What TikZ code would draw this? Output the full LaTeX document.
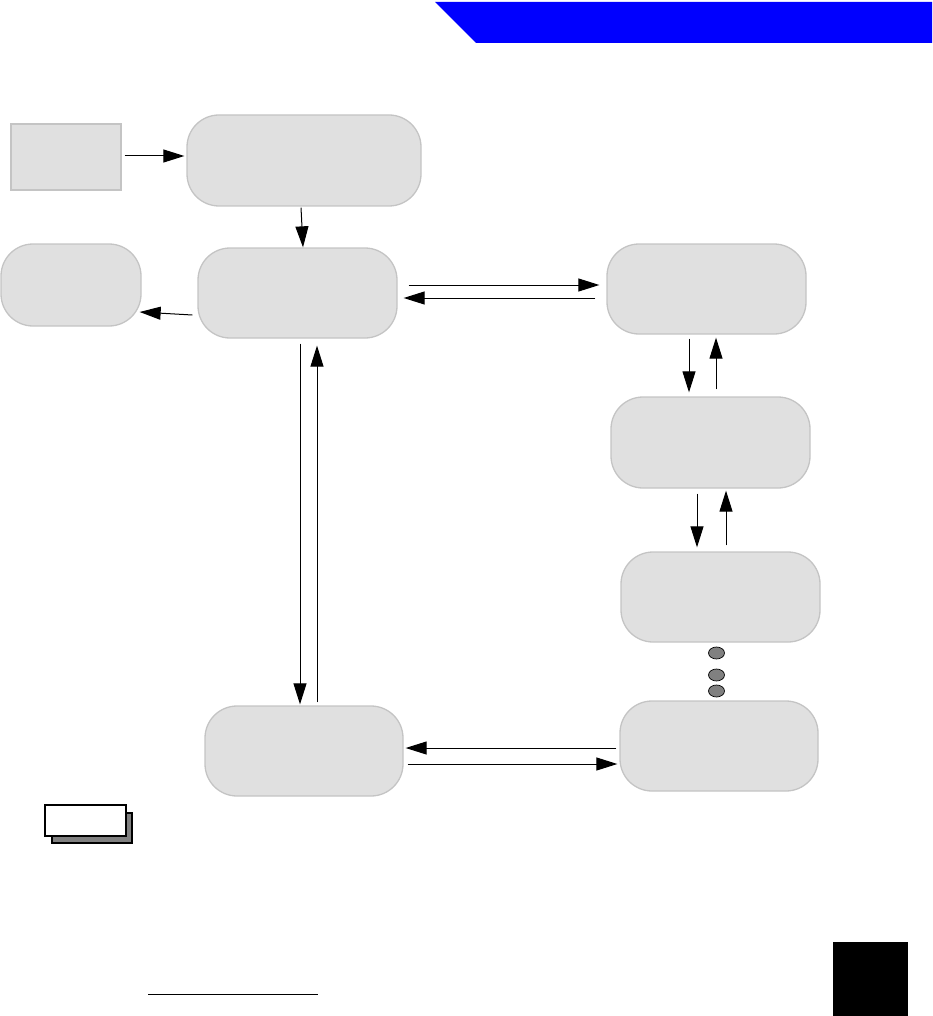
\documentclass[tikz,border=0pt]{standalone}
\usetikzlibrary{arrows.meta,calc,shapes.geometric}
\definecolor{boxfill}{HTML}{E0E0E0}
\definecolor{boxline}{HTML}{C4C4C4}
\definecolor{dotfill}{HTML}{808080}
\tikzset{
  x=1pt,y=-1pt,
  sqbox/.style={draw=boxline,fill=boxfill,line width=1.3pt,inner sep=0pt},
  rbox/.style={sqbox,rounded corners=32pt},
  arr/.style={line width=1pt,-{Triangle[length=21pt,width=13pt]}},
  dotnode/.style={ellipse,draw=black,fill=dotfill,line width=0.7pt,minimum width=16pt,minimum height=12pt,inner sep=0pt},
}
\begin{document}
\begin{tikzpicture}
\useasboundingbox (0,0) rectangle (932,1016);
% banner
\fill[blue] (435,2) -- (932,2) -- (932,43) -- (476,43) -- cycle;
% boxes
\node[sqbox,minimum width=110pt,minimum height=66pt] (A) at (66,157) {};
\node[rbox,minimum width=234pt,minimum height=91pt] (B) at (304,160.5) {};
\node[rbox,minimum width=199pt,minimum height=90pt] (C) at (297.5,293) {};
\node[rbox,minimum width=140pt,minimum height=82pt] (D) at (71,285) {};
\node[rbox,minimum width=199pt,minimum height=90pt] (E) at (706.5,289) {};
\node[rbox,minimum width=199pt,minimum height=91pt] (F) at (710.5,442.5) {};
\node[rbox,minimum width=199pt,minimum height=90pt] (G) at (720.5,597) {};
\node[rbox,minimum width=198pt,minimum height=90pt] (H) at (719,746) {};
\node[rbox,minimum width=198pt,minimum height=90pt] (I) at (304,751) {};
% dots
\node[dotnode] (d1) at (716.5,653) {};
\node[dotnode] (d2) at (716.5,675) {};
\node[dotnode] (d3) at (716.5,691) {};
% connectors
\draw[arr] ($(A.east)+(3,-1)$) -- ($(B.west)+(-2,-4.5)$);
\draw[arr] ($(B.south)+(-3,1)$) -- ($(C.north)+(5.5,0)$);
\draw[arr] ($(C.west)+(-5,22)$) -- ($(D.east)+(-2,27)$);
\draw[arr] ($(C.east)+(11,-8)$) -- ($(E.west)+(-7,-4)$);
\draw[arr] ($(E.west)+(-11,9)$) -- ($(C.east)+(6,5)$);
\draw[arr] ($(E.south)+(-17.5,4)$) -- ($(F.north)+(-21.5,-4)$);
\draw[arr] ($(F.north)+(5.5,-7)$) -- ($(E.south)+(9.5,3)$);
\draw[arr] ($(F.south)+(-13.5,5)$) -- ($(G.north)+(-23.5,-4)$);
\draw[arr] ($(G.north)+(5.5,-6)$) -- ($(F.south)+(15.5,2)$);
\draw[arr] ($(H.west)+(-3,2)$) -- ($(I.east)+(2,-3)$);
\draw[arr] ($(I.east)+(4,13)$) -- ($(H.west)+(-2,18)$);
\draw[arr] ($(C.south)+(2.5,5)$) -- ($(I.north)+(-4,-1)$);
\draw[arr] ($(I.north)+(13,-3)$) -- ($(C.south)+(19.5,7)$);
% stacked note box
\node[draw=black,fill=dotfill,line width=1.5pt,minimum width=80pt,minimum height=30pt,inner sep=0pt] (nb) at (92,828) {};
\node[draw=black,fill=white,line width=1.5pt,minimum width=81pt,minimum height=31pt,inner sep=0pt] (nf) at (85.5,820.5) {};
% footer line and square
\draw[line width=1pt] (148,994) -- (318,994);
\fill[black] (833,942) rectangle (908,1016);
\end{tikzpicture}
\end{document}
